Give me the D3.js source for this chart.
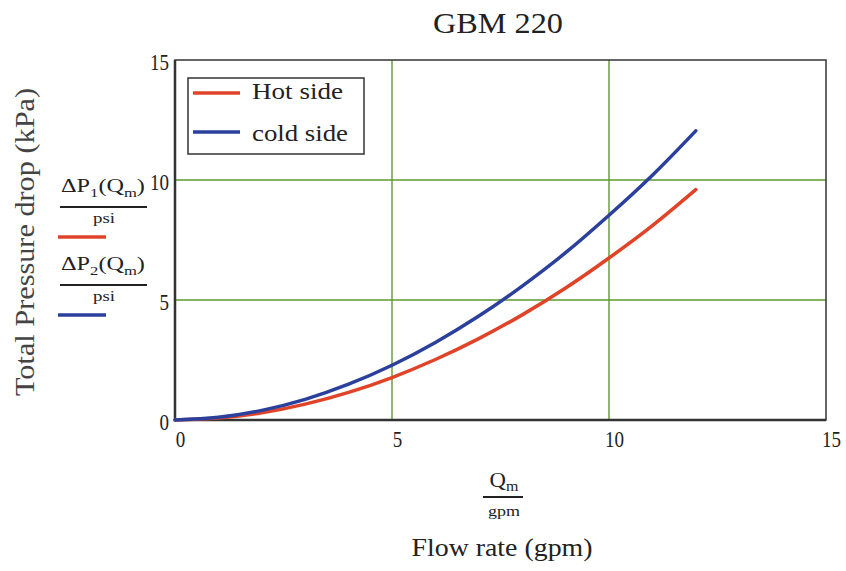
<!DOCTYPE html>
<html><head><meta charset="utf-8">
<script src="https://cdn.jsdelivr.net/npm/d3@7"></script>
<style>body{margin:0;background:#fff}svg{display:block}</style>
</head><body><svg id="c" width="846" height="571"></svg>
<script>
const flow = [0,1,2,3,4,5,6,7,8,9,10,11,12];
const hotSide = [0,0.08,0.30,0.66,1.15,1.77,2.52,3.39,4.38,5.50,6.75,8.10,9.60];
const coldSide = [0,0.11,0.40,0.86,1.49,2.28,3.23,4.33,5.58,6.97,8.53,10.2,12.05];
const xTicks = [0,5,10,15];
const yTicks = [0,5,10,15];
const seriesNames = ["Hot side","cold side"];
const colors = ["#e04428","#2b3f9c"];

const svg = d3.select("#c");
const L=175, R=826, T=60, B=420;
const x = d3.scaleLinear().domain([0,15]).range([L,R]);
const y = d3.scaleLinear().domain([0,15]).range([B,T]);
const serif = "'Liberation Serif','DejaVu Serif',serif";

// horizontally fit a text element (anchor middle/start) to a width
function fit(sel, w){
  const n = sel.node(); const bb = n.getBBox();
  const k = w / bb.width;
  const anchor = sel.attr("text-anchor")==="middle" ? bb.x+bb.width/2 : bb.x;
  sel.attr("transform",`translate(${anchor},0) scale(${k},1) translate(${-anchor},0)`);
}

// grid
svg.append("g").selectAll("line").data(xTicks.slice(1,-1)).join("line")
  .attr("x1",d=>x(d)).attr("x2",d=>x(d)).attr("y1",T).attr("y2",B)
  .attr("stroke","#5e9a2c").attr("stroke-width",1.4);
svg.append("g").selectAll("line").data(yTicks.slice(1,-1)).join("line")
  .attr("y1",d=>y(d)).attr("y2",d=>y(d)).attr("x1",L).attr("x2",R)
  .attr("stroke","#5e9a2c").attr("stroke-width",1.4);

// frame
svg.append("rect").attr("x",L).attr("y",T).attr("width",R-L).attr("height",B-T)
  .attr("fill","none").attr("stroke","#333").attr("stroke-width",1.5);
svg.append("line").attr("x1",L).attr("x2",R).attr("y1",B).attr("y2",B).attr("stroke","#333").attr("stroke-width",2.5);
svg.append("line").attr("x1",L).attr("x2",L).attr("y1",T).attr("y2",B).attr("stroke","#333").attr("stroke-width",2.5);

// axes tick labels
const xAxis = d3.axisBottom(x).tickValues(xTicks).tickSize(0).tickPadding(10).tickFormat(d3.format("d"));
const gx = svg.append("g").attr("transform",`translate(5,${B})`).call(xAxis);
gx.select(".domain").remove();
gx.selectAll("text").attr("font-family",serif).attr("font-size",24).attr("fill","#222")
  .attr("textLength",d=>String(d).length*9.5).attr("lengthAdjust","spacingAndGlyphs");
const yAxis = d3.axisLeft(y).tickValues(yTicks).tickSize(0).tickPadding(6).tickFormat(d3.format("d"));
const gy = svg.append("g").attr("transform",`translate(${L},2)`).call(yAxis);
gy.select(".domain").remove();
gy.selectAll("text").attr("font-family",serif).attr("font-size",24).attr("fill","#222")
  .attr("textLength",d=>String(d).length*9.5).attr("lengthAdjust","spacingAndGlyphs");

// curves
const line = d3.line().x((d,i)=>x(flow[i])).y(d=>y(d)).curve(d3.curveMonotoneX);
[hotSide, coldSide].forEach((s,i)=>{
  svg.append("path").attr("d",line(s)).attr("fill","none")
    .attr("stroke",colors[i]).attr("stroke-width",3.5).attr("stroke-linecap","round");
});

// legend
svg.append("rect").attr("x",188).attr("y",78).attr("width",176).attr("height",76)
  .attr("fill","#fff").attr("stroke","#333").attr("stroke-width",1.5);
const legY = [93,132], legBase=[99,141], legW=[91,96];
seriesNames.forEach((n,i)=>{
  svg.append("line").attr("x1",193).attr("x2",240).attr("y1",legY[i]).attr("y2",legY[i])
    .attr("stroke",colors[i]).attr("stroke-width",3.5);
  svg.append("text").attr("x",252).attr("y",legBase[i]).text(n)
    .attr("font-family",serif).attr("font-size",23).attr("fill","#222")
    .attr("textLength",legW[i]).attr("lengthAdjust","spacingAndGlyphs");
});

// title
svg.append("text").attr("x",498).attr("y",33).attr("text-anchor","middle").text("GBM 220")
  .attr("font-family",serif).attr("font-size",30).attr("fill","#222")
  .attr("textLength",130).attr("lengthAdjust","spacingAndGlyphs");

// y label
svg.append("text").attr("transform","translate(34,242) rotate(-90)").attr("text-anchor","middle")
  .text("Total Pressure drop (kPa)").attr("font-family",serif).attr("font-size",27).attr("fill","#444")
  .attr("textLength",308).attr("lengthAdjust","spacingAndGlyphs");

// Mathcad-style y-expressions
function yExpr(idx, top, col){
  const g = svg.append("g");
  const t = g.append("text").attr("x",103).attr("y",top+18).attr("text-anchor","middle")
    .attr("font-family",serif).attr("font-size",19).attr("fill","#222");
  t.append("tspan").text("\u0394P");
  t.append("tspan").text(idx).attr("font-size",13).attr("dy",5);
  t.append("tspan").text("(Q").attr("dy",-5).attr("font-size",19);
  t.append("tspan").text("m").attr("font-size",13).attr("dy",5);
  t.append("tspan").text(")").attr("dy",-5).attr("font-size",19);
  fit(t, 84);
  g.append("line").attr("x1",60).attr("x2",147).attr("y1",top+33).attr("y2",top+33).attr("stroke","#222").attr("stroke-width",1.8);
  g.append("text").attr("x",104).attr("y",top+49).attr("text-anchor","middle").text("psi")
    .attr("font-family",serif).attr("font-size",15).attr("fill","#222")
    .attr("textLength",22).attr("lengthAdjust","spacingAndGlyphs");
  g.append("line").attr("x1",58).attr("x2",106).attr("y1",top+63).attr("y2",top+63).attr("stroke",col).attr("stroke-width",3.5);
}
yExpr("1",174,colors[0]);
yExpr("2",252,colors[1]);

// x expression
const xt = svg.append("text").attr("x",504).attr("y",487).attr("text-anchor","middle")
  .attr("font-family",serif).attr("font-size",20).attr("fill","#222");
xt.append("tspan").text("Q");
xt.append("tspan").text("m").attr("font-size",14).attr("dy",4);
fit(xt, 29);
svg.append("line").attr("x1",483).attr("x2",523).attr("y1",497).attr("y2",497).attr("stroke","#222").attr("stroke-width",1.8);
svg.append("text").attr("x",504).attr("y",516).attr("text-anchor","middle").text("gpm")
  .attr("font-family",serif).attr("font-size",15).attr("fill","#222")
  .attr("textLength",32).attr("lengthAdjust","spacingAndGlyphs");

svg.append("text").attr("x",502).attr("y",556).attr("text-anchor","middle").text("Flow rate (gpm)")
  .attr("font-family",serif).attr("font-size",26).attr("fill","#222")
  .attr("textLength",181).attr("lengthAdjust","spacingAndGlyphs");
</script></body></html>
